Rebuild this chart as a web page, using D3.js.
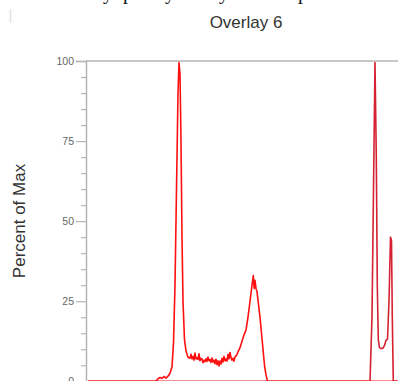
<!DOCTYPE html>
<html><head><meta charset="utf-8">
<script src="https://cdn.jsdelivr.net/npm/d3@7"></script>
<style>html,body{margin:0;padding:0;background:#fff;overflow:hidden}</style>
</head><body>
<svg id="c" width="398" height="381"></svg>
<script>
const title = "Overlay 6";
const yLabel = "Percent of Max";
const yTicks = [0, 25, 50, 75, 100];
const yMinorTicks = [5,10,15,20,30,35,40,45,55,60,65,70,80,85,90,95];
// series 1 (bright red): channel, percent of max
const s1Channel = [2,70,72,74,76,78,80,82,84,86,87.5,89,90.5,92,93,94,95,96,97,98.5,100,102,104,
  105,106,107,108,109,110,111,112,113,114,115,116,117,118,119,120,121,122,123,124,125,126,127,128,129,130,131,132,133,134,135,136,137,138,139,140,141,142,143,144,145,146,147,148,149,150,151,152,
  154,156,158,160,162,164,166,167.3,168.2,169,170,171,172.5,174,175.5,177,178.5,180,181.5,312];
const s1Value = [0,0,0.8,1.2,0.9,1.5,1.0,1.6,2.5,4.5,12,30,60,90,99.5,96,75,45,25,13,9.5,7.5,7.2,
  8.4,7.0,7.8,6.6,8.8,7.0,7.4,6.8,8.6,6.4,7.2,6.9,5.8,6.6,6.1,7.0,6.2,7.6,6.4,6.8,5.9,7.3,6.0,6.6,5.5,6.9,5.2,6.4,4.8,6.3,5.4,7.2,6.0,7.8,6.4,7.0,6.3,8.4,7.0,9.0,7.4,6.6,7.2,6.3,7.6,8.0,8.4,9.2,
  10.5,12.5,14.5,16,20,25,30,33,29,31.5,29,28,24,20,15,10,5,2,0,0];
// series 2 (dark red)
const s2Channel = [2,284,286,287.5,289,290.3,291.3,292.3,293.5,295,297,298.5,300,301.5,303,304.5,305.5,306.3,307.3,312];
const s2Value = [0,0,20,60,99.5,70,30,13,10.5,10.2,10.4,11.2,12.8,13.2,25,45,44,20,0,0];

const svg = d3.select("#c");
const x = d3.scaleLinear().domain([0, 320]).range([86, 406]);
const y = d3.scaleLinear().domain([0, 100]).range([381.3, 61]);

// cropped caption text above (descenders only visible)
svg.append("text").attr("y", -1).attr("font-family", "Liberation Serif").attr("font-size", 20).attr("fill", "#111")
  .selectAll("tspan").data([["y",103],["p",123],["y",165],["y",219],["p",298]]).join("tspan")
  .attr("x", d => d[1]).text(d => d[0]);
svg.append("line").attr("x1", 10.5).attr("x2", 10.5).attr("y1", 9).attr("y2", 23).attr("stroke", "#e2e2e2").attr("stroke-width", 1.5);

svg.append("text").attr("x", 246).attr("y", 28).attr("text-anchor", "middle")
  .attr("font-family", "Liberation Sans, Arial, sans-serif").attr("font-size", 17).attr("fill", "#333").text(title);

svg.append("text").attr("transform", "translate(25,221) rotate(-90)").attr("text-anchor", "middle")
  .attr("font-family", "Liberation Sans, Arial, sans-serif").attr("font-size", 17).attr("fill", "#333").text(yLabel);

// frame top
svg.append("line").attr("x1", 86).attr("x2", 398).attr("y1", 61).attr("y2", 61).attr("stroke", "#b4b4b4").attr("stroke-width", 1.5);

const yAxis = d3.axisLeft(y).tickValues(yTicks).tickSize(10).tickPadding(2);
const gA = svg.append("g").attr("transform", "translate(86,0)").call(yAxis);
gA.select(".domain").attr("stroke", "#b4b4b4").attr("stroke-width", 1.5);
gA.selectAll(".tick line").attr("stroke", "#b4b4b4").attr("stroke-width", 1.2);
gA.selectAll(".tick text").attr("font-family", "Liberation Sans, Arial, sans-serif").attr("font-size", 10.5).attr("fill", "#666");
const yMinor = d3.axisLeft(y).tickValues(yMinorTicks).tickSize(5).tickFormat("");
const gM = svg.append("g").attr("transform", "translate(86,0)").call(yMinor);
gM.select(".domain").remove();
gM.selectAll(".tick line").attr("stroke", "#b4b4b4").attr("stroke-width", 1.2);

svg.append("clipPath").attr("id", "pc").append("rect").attr("x", 87).attr("y", 55).attr("width", 320).attr("height", 326);
const line = d3.line().x(d => x(d[0])).y(d => y(d[1]));
const plot = svg.append("g").attr("clip-path", "url(#pc)");
plot.append("path").datum(d3.zip(s2Channel, s2Value)).attr("d", line)
  .attr("fill", "none").attr("stroke", "#d42232").attr("stroke-width", 1.6).attr("stroke-linejoin", "round");
plot.append("path").datum(d3.zip(s1Channel, s1Value)).attr("d", line)
  .attr("fill", "none").attr("stroke", "#ff1010").attr("stroke-width", 1.6).attr("stroke-linejoin", "round");
</script>
</body></html>
